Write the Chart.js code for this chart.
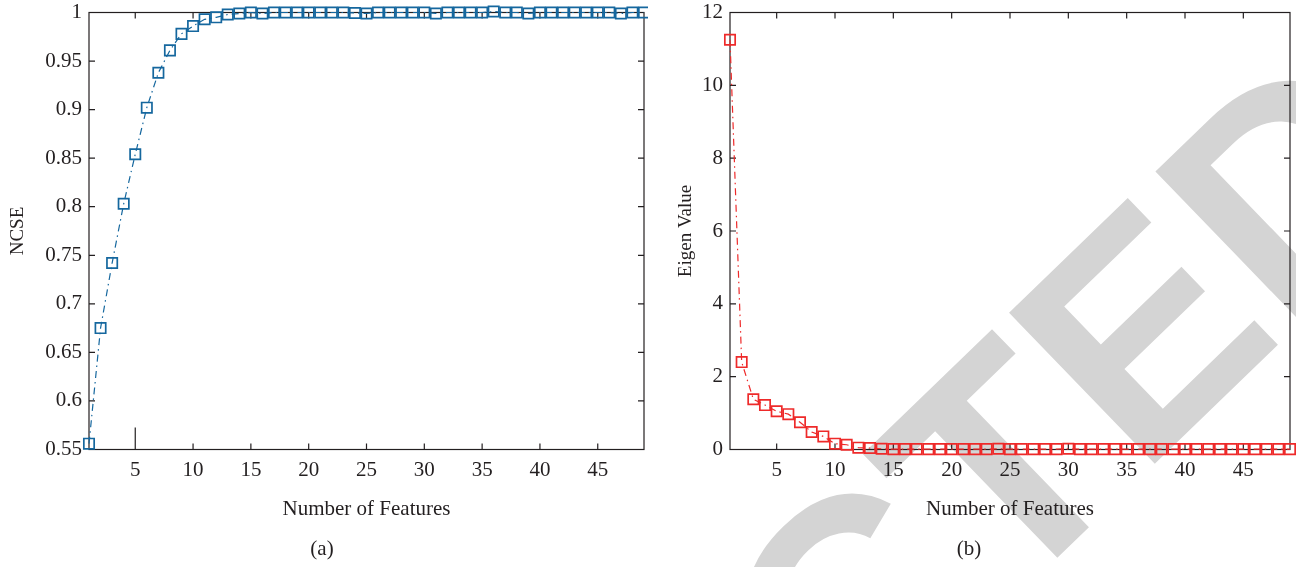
<!DOCTYPE html>
<html>
<head>
<meta charset="utf-8">
<script src="https://cdn.jsdelivr.net/npm/chart.js@4.4.1/dist/chart.umd.min.js"></script>
<style>
  body { margin: 0; background: #fff; }
  #wrap { position: relative; width: 1296px; height: 567px; overflow: hidden; }
  #mark { position: absolute; left: 0; top: 0; }
  canvas { position: absolute; top: 0; }
  #left { left: 0; }
  #right { left: 648px; }
</style>
</head>
<body>
<div id="wrap">
  <svg id="mark" width="1296" height="567">
    <text x="92" y="1490" transform="rotate(-44 92 1490)" font-family="Liberation Sans" font-weight="bold"
      font-size="305" fill="#d4d4d4">RETRACTED</text>
  </svg>
  <canvas id="left" width="648" height="567"></canvas>
  <canvas id="right" width="648" height="567"></canvas>
</div>
<script>
// number of features 1..49
const features = [1,2,3,4,5,6,7,8,9,10,11,12,13,14,15,16,17,18,19,20,21,22,23,24,25,
  26,27,28,29,30,31,32,33,34,35,36,37,38,39,40,41,42,43,44,45,46,47,48,49];

const ncse = [0.556,0.675,0.742,0.803,0.854,0.902,0.938,0.961,0.978,0.986,0.993,0.995,0.998,0.999,1.000,
  0.999,1.000,1.000,1.000,1.000,1.000,1.000,1.000,0.9995,0.999,1.000,1.000,1.000,1.000,1.000,
  0.999,1.000,1.000,1.000,1.000,1.001,1.000,1.000,0.999,1.000,1.000,1.000,1.000,1.000,1.000,
  1.000,0.999,1.000,1.000];

const eigen = [11.25,2.40,1.38,1.22,1.05,0.97,0.75,0.48,0.36,0.16,0.13,0.05,0.04,0.02,0.01,
  0.01,0.01,0.01,0.01,0.01,0.01,0.01,0.01,0.02,0.01,0.01,0.01,0.01,0.01,0.02,
  0.01,0.01,0.01,0.01,0.01,0.01,0.01,0.01,0.01,0.01,0.01,0.01,0.01,0.01,0.01,
  0.01,0.01,0.01,0.01];

const xTicks = [5,10,15,20,25,30,35,40,45];
const ncseTicks = [0.55,0.6,0.65,0.7,0.75,0.8,0.85,0.9,0.95,1];
const eigenTicks = [0,2,4,6,8,10,12];

const ink = '#231f20';
const serif = 'Liberation Serif';

// box round the plot with inward tick marks on all four sides
const frame = {
  id: 'frame',
  beforeDatasetsDraw(chart, args, opts) {
    const { ctx, chartArea: a, scales: { x, y } } = chart;
    ctx.save();
    ctx.strokeStyle = ink;
    ctx.lineWidth = 1.2;
    ctx.strokeRect(a.left, a.top, a.right - a.left, a.bottom - a.top);
    ctx.beginPath();
    x.ticks.forEach(t => {
      const px = x.getPixelForValue(t.value);
      const len = t.value === opts.longTick ? 22 : 6;   // the odd long tick in panel (a)
      ctx.moveTo(px, a.bottom); ctx.lineTo(px, a.bottom - len);
      ctx.moveTo(px, a.top); ctx.lineTo(px, a.top + 6);
    });
    y.ticks.forEach(t => {
      const py = y.getPixelForValue(t.value);
      ctx.moveTo(a.left, py); ctx.lineTo(a.left + 6, py);
      ctx.moveTo(a.right, py); ctx.lineTo(a.right - 6, py);
    });
    ctx.stroke();
    ctx.restore();
  }
};

function makeChart(id, values, color, yMin, yMax, yTicks, yTitle, yWidth, yTitlePad, padRight, tag, longTick) {
  return new Chart(document.getElementById(id), {
    type: 'line',
    data: {
      datasets: [{
        data: features.map((f, i) => ({ x: f, y: values[i] })),
        borderColor: color,
        borderWidth: 1.2,
        borderDash: [7, 4, 1.5, 4],
        tension: 0,
        pointStyle: 'rect',
        pointRadius: 7.3,
        pointBorderWidth: 1.7,
        pointBorderColor: color,
        pointBackgroundColor: 'rgba(0,0,0,0)',
        clip: false
      }]
    },
    options: {
      responsive: false,
      animation: false,
      layout: { autoPadding: false, padding: { top: 12.5, right: padRight, left: 0, bottom: 0 } },
      plugins: {
        legend: { display: false },
        tooltip: { enabled: false },
        frame: { longTick: longTick },
        title: {
          display: true, position: 'bottom', text: tag, color: ink,
          font: { family: serif, size: 21, weight: 'normal' },
          padding: { top: 0, bottom: 5.4 }
        }
      },
      scales: {
        x: {
          type: 'linear', min: 1, max: 49,
          grid: { display: false, drawTicks: false },
          border: { display: false },
          afterBuildTicks: s => { s.ticks = xTicks.map(v => ({ value: v })); },
          afterFit: s => { s.height = 86.9; s.paddingLeft = 0; s.paddingRight = 0; },
          ticks: { color: ink, padding: 8, maxRotation: 0, font: { family: serif, size: 21 } },
          title: {
            display: true, text: 'Number of Features', color: ink,
            font: { family: serif, size: 21 }, padding: { top: 0, bottom: 14.8 }
          }
        },
        y: {
          min: yMin, max: yMax,
          grid: { display: false, drawTicks: false },
          border: { display: false },
          afterBuildTicks: s => { s.ticks = yTicks.map(v => ({ value: v })); },
          afterFit: s => { s.width = yWidth; s.paddingTop = 0; s.paddingBottom = 0; },
          ticks: { color: ink, padding: 7, callback: v => String(v), font: { family: serif, size: 21 } },
          title: {
            display: true, text: yTitle, color: ink,
            font: { family: serif, size: 19 }, padding: { top: yTitlePad, bottom: 0 }
          }
        }
      }
    },
    plugins: [frame]
  });
}

makeChart('left', ncse, '#15679e', 0.55, 1, ncseTicks, 'NCSE', 89, 7, 4, '(a)', 5);
makeChart('right', eigen, '#ee2a2a', 0, 12, eigenTicks, 'Eigen Value', 82, 27, 6, '(b)', null);
</script>
</body>
</html>
